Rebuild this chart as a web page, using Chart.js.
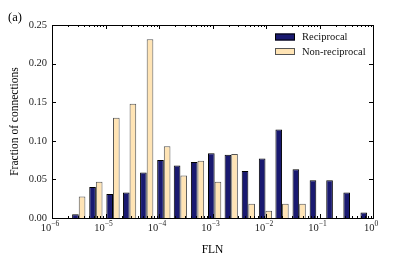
<!DOCTYPE html>
<html lang="en">
<head>
  <meta charset="UTF-8">
  <title>FLN histogram</title>
  <script src="https://cdn.jsdelivr.net/npm/chart.js"></script>
  <style>
    html, body { margin: 0; padding: 0; background: #fff; }
    #wrap { width: 415px; height: 257px; }
  </style>
</head>
<body>
  <div id="wrap"><canvas id="flnChart" width="415" height="257"></canvas></div>

  <script>
    // bin centres, as log10(FLN)
    const binLog = [-5.50, -5.18, -4.86, -4.55, -4.23, -3.91, -3.60, -3.28, -2.96,
                    -2.65, -2.33, -2.01, -1.70, -1.38, -1.06, -0.75, -0.43, -0.11];
    const reciprocal = [0.005, 0.040, 0.031, 0.033, 0.059, 0.075, 0.068, 0.0725, 0.084,
                        0.082, 0.061, 0.077, 0.1145, 0.063, 0.049, 0.049, 0.033, 0.007];
    const nonReciprocal = [0.028, 0.047, 0.130, 0.148, 0.2315, 0.093, 0.055, 0.074, 0.047,
                           0.083, 0.0185, 0.0095, 0.0185, 0.0185, 0, 0, 0, 0];
    const seriesNames = ['Reciprocal', 'Non-reciprocal'];
    const xDecades = [-6, -5, -4, -3, -2, -1, 0];
    const yTicks = [0, 0.05, 0.10, 0.15, 0.20, 0.25];

    const serif = "'Liberation Serif', 'DejaVu Serif', serif";
    const toPts = vals => binLog.map((b, i) => ({ x: b, y: vals[i] }));

    // spines, inward ticks, log tick labels, legend and panel tag
    const decor = {
      id: 'decor',
      afterDraw(chart) {
        const { ctx, chartArea: a, scales: { x, y } } = chart;
        ctx.save();
        ctx.strokeStyle = '#000';
        ctx.lineWidth = 1;
        ctx.strokeRect(a.left + 0.5, a.top + 0.5, a.right - a.left, a.bottom - a.top);

        ctx.beginPath();
        xDecades.forEach(n => {
          const px = Math.round(x.getPixelForValue(n)) + 0.5;
          ctx.moveTo(px, a.bottom); ctx.lineTo(px, a.bottom - 4);
          ctx.moveTo(px, a.top); ctx.lineTo(px, a.top + 4);
          if (n < 0) {
            for (let k = 2; k <= 9; k++) {
              const mx = Math.round(x.getPixelForValue(n + Math.log10(k))) + 0.5;
              ctx.moveTo(mx, a.bottom); ctx.lineTo(mx, a.bottom - 2);
              ctx.moveTo(mx, a.top); ctx.lineTo(mx, a.top + 2);
            }
          }
        });
        yTicks.forEach(v => {
          const py = Math.round(y.getPixelForValue(v)) + 0.5;
          ctx.moveTo(a.left, py); ctx.lineTo(a.left + 4, py);
          ctx.moveTo(a.right, py); ctx.lineTo(a.right - 4, py);
        });
        ctx.stroke();

        // x tick labels: 10 with a raised exponent
        ctx.fillStyle = '#222';
        ctx.textBaseline = 'alphabetic';
        xDecades.forEach(n => {
          const px = x.getPixelForValue(n);
          const exp = n === 0 ? '0' : '\u2212' + Math.abs(n);
          ctx.font = '10.5px ' + serif;
          const wBase = ctx.measureText('10').width;
          ctx.font = '7.5px ' + serif;
          const wExp = ctx.measureText(exp).width;
          const left = px - 2 - (wBase + wExp) / 2;
          ctx.font = '10.5px ' + serif;
          ctx.textAlign = 'left';
          ctx.fillText('10', left, a.bottom + 12.5);
          ctx.font = '7.5px ' + serif;
          ctx.fillText(exp, left + wBase, a.bottom + 7.5);
        });

        // legend
        const ds = chart.data.datasets;
        ds.forEach((d, i) => {
          const bx = a.right - 98, by = a.top + 8.5 + i * 14.5;
          ctx.fillStyle = d.backgroundColor;
          ctx.fillRect(bx, by, 20, 7);
          ctx.strokeStyle = d.borderColor;
          ctx.strokeRect(bx + 0.5, by + 0.5, 19, 6);
          ctx.fillStyle = '#111';
          ctx.font = '10.5px ' + serif;
          ctx.textAlign = 'left';
          ctx.textBaseline = 'middle';
          ctx.fillText(d.label, bx + 27, by + 4);
        });

        // panel tag
        ctx.fillStyle = '#000';
        ctx.font = '12.5px ' + serif;
        ctx.textAlign = 'left';
        ctx.textBaseline = 'alphabetic';
        ctx.fillText('(a)', 8, 21);
        ctx.restore();
      }
    };

    new Chart(document.getElementById('flnChart'), {
      type: 'bar',
      data: {
        datasets: [{
          label: seriesNames[0],
          data: toPts(reciprocal),
          backgroundColor: '#191970',
          borderColor: '#000',
          borderWidth: 1
        }, {
          label: seriesNames[1],
          data: toPts(nonReciprocal),
          backgroundColor: '#FFE4B5',
          borderColor: '#555',
          borderWidth: 1
        }]
      },
      options: {
        responsive: false,
        animation: false,
        categoryPercentage: 0.8,
        barPercentage: 1.0,
        layout: { padding: { left: 0, top: 25, right: 42, bottom: 0 } },
        plugins: {
          legend: { display: false },
          tooltip: { enabled: false }
        },
        scales: {
          x: {
            type: 'linear',
            min: -6,
            max: 0,
            offset: false,
            grid: { display: false, offset: false, drawTicks: false },
            border: { display: false },
            ticks: { display: false, stepSize: 1 },
            afterFit: s => { s.height = 39; },
            title: {
              display: true,
              text: 'FLN',
              color: '#000',
              font: { family: serif, size: 11.5 },
              padding: { top: 7, bottom: 0 }
            }
          },
          y: {
            min: 0,
            max: 0.25,
            grid: { display: false, drawTicks: false },
            border: { display: false },
            afterFit: s => { s.width = 52; },
            afterBuildTicks: s => { s.ticks = yTicks.map(v => ({ value: v })); },
            ticks: {
              padding: 5,
              color: '#222',
              font: { family: serif, size: 10.5 },
              callback: v => v.toFixed(2)
            },
            title: {
              display: true,
              text: 'Fraction of connections',
              color: '#000',
              font: { family: serif, size: 11.5 },
              padding: { top: 8, bottom: 0 }
            }
          }
        }
      },
      plugins: [decor]
    });
  </script>
</body>
</html>
